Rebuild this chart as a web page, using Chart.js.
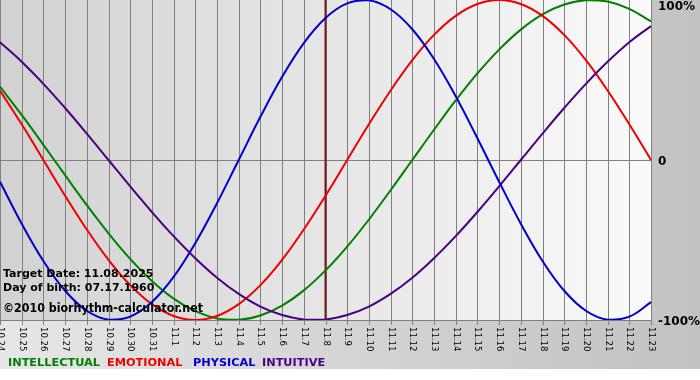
<!DOCTYPE html>
<html>
<head>
<meta charset="utf-8">
<script src="https://cdn.jsdelivr.net/npm/chart.js@4.4.1/dist/chart.umd.min.js"></script>
<style>
  html, body { margin: 0; padding: 0; background: #fff; }
  #wrap { width: 700px; height: 380px; position: relative; }
</style>
</head>
<body>
<div id="wrap"><canvas id="bio" width="700" height="380"></canvas></div>
<script>
// Days shown on the chart
const days = ['10.24', '10.25', '10.26', '10.27', '10.28', '10.29', '10.30', '10.31',
    '11.1', '11.2', '11.3', '11.4', '11.5', '11.6', '11.7', '11.8', '11.9', '11.10',
    '11.11', '11.12', '11.13', '11.14', '11.15', '11.16', '11.17', '11.18', '11.19',
    '11.20', '11.21', '11.22', '11.23'];

// Cycle values per day (-1 .. 1)
const physical = [-0.136, -0.398, -0.631, -0.817, -0.942, -0.998, -0.979, -0.888,
    -0.731, -0.520, -0.270, 0.000, 0.270, 0.520, 0.731, 0.888, 0.979, 0.998,
    0.942, 0.817, 0.631, 0.398, 0.136, -0.136, -0.398, -0.631, -0.817, -0.942,
    -0.998, -0.979, -0.888];
const emotional = [0.434, 0.223, 0.000, -0.223, -0.434, -0.624, -0.782, -0.901,
    -0.975, -1.000, -0.975, -0.901, -0.782, -0.624, -0.434, -0.223, 0.000, 0.223,
    0.434, 0.624, 0.782, 0.901, 0.975, 1.000, 0.975, 0.901, 0.782, 0.624,
    0.434, 0.223, 0.000];
const intellectual = [0.458, 0.282, 0.095, -0.095, -0.282, -0.458, -0.618, -0.756,
    -0.866, -0.945, -0.990, -0.999, -0.972, -0.910, -0.815, -0.690, -0.541, -0.372,
    -0.189, 0.000, 0.189, 0.372, 0.541, 0.690, 0.815, 0.910, 0.972, 0.999,
    0.990, 0.945, 0.866];
const intuitive = [0.736, 0.614, 0.476, 0.325, 0.165, 0.000, -0.165, -0.325,
    -0.476, -0.614, -0.736, -0.837, -0.916, -0.969, -0.997, -0.997, -0.969, -0.916,
    -0.837, -0.736, -0.614, -0.476, -0.325, -0.165, 0.000, 0.165, 0.325, 0.476,
    0.614, 0.736, 0.837];

const targetDay = '11.8';
const yTicks = [1, 0, -1];
const yTickLabels = ['100%', '0', '-100%'];

const legendItems = [
    { text: 'INTELLECTUAL', color: '#008000', x: 8 },
    { text: 'EMOTIONAL', color: '#ee0000', x: 107 },
    { text: 'PHYSICAL', color: '#0000cc', x: 193 },
    { text: 'INTUITIVE', color: '#4b0082', x: 262 }
];

/**
 * Backgrounds, grid and decorations
 */
const bioPlugin = {
    id: 'bioDecor',
    beforeDraw(chart) {
        const ctx = chart.ctx;
        const a = chart.chartArea;
        ctx.save();
        // outer background
        let g = ctx.createLinearGradient(0, 0, chart.width, 0);
        g.addColorStop(0, '#e6e6e6');
        g.addColorStop(1, '#c2c2c2');
        ctx.fillStyle = g;
        ctx.fillRect(0, 0, chart.width, 369);
        ctx.fillStyle = '#ffffff';
        ctx.fillRect(0, 369, chart.width, chart.height - 369);
        // plot background
        g = ctx.createLinearGradient(a.left, 0, a.right, 0);
        g.addColorStop(0, '#d2d2d2');
        g.addColorStop(1, '#fafafa');
        ctx.fillStyle = g;
        ctx.fillRect(a.left, a.top, a.right - a.left, a.bottom - a.top);
        ctx.restore();
    },
    beforeDatasetsDraw(chart) {
        const ctx = chart.ctx;
        const a = chart.chartArea;
        const xs = chart.scales.x;
        const ys = chart.scales.y;
        ctx.save();
        ctx.strokeStyle = '#808080';
        ctx.lineWidth = 1;
        ctx.beginPath();
        days.forEach((d, i) => {
            const x = Math.round(xs.getPixelForValue(i)) + 0.5;
            ctx.moveTo(x, a.top);
            ctx.lineTo(x, a.bottom + 5);
        });
        const y0 = Math.round(ys.getPixelForValue(0)) + 0.5;
        ctx.moveTo(a.left, y0);
        ctx.lineTo(a.right, y0);
        ctx.moveTo(a.left, a.bottom + 0.5);
        ctx.lineTo(a.right, a.bottom + 0.5);
        ctx.stroke();

        // target date marker
        const xt = xs.getPixelForValue(days.indexOf(targetDay));
        ctx.strokeStyle = '#7a1a1a';
        ctx.lineWidth = 2;
        ctx.beginPath();
        ctx.moveTo(xt, a.top);
        ctx.lineTo(xt, a.bottom);
        ctx.stroke();
        ctx.restore();
    },
    afterDraw(chart) {
        const ctx = chart.ctx;
        const a = chart.chartArea;
        const xs = chart.scales.x;
        const ys = chart.scales.y;
        ctx.save();

        // overlay info text
        ctx.fillStyle = '#000000';
        ctx.textAlign = 'left';
        ctx.textBaseline = 'alphabetic';
        ctx.font = "bold 11px 'DejaVu Sans'";
        ctx.fillText('Target Date: 11.08.2025', 3, 277);
        ctx.fillText('Day of birth: 07.17.1960', 3, 291);
        ctx.font = "bold 12.5px 'DejaVu Sans Condensed', 'DejaVu Sans'";
        ctx.fillText('\u00a92010 biorhythm-calculator.net', 3, 312, 200);

        // right axis labels
        ctx.font = "bold 12px 'DejaVu Sans'";
        ctx.textBaseline = 'middle';
        yTicks.forEach((v, i) => {
            let y = ys.getPixelForValue(v);
            if (i === 0) y += 7;
            else y += 2;
            ctx.fillText(yTickLabels[i], a.right + 7, y);
        });

        // rotated day labels
        ctx.font = "9.5px 'DejaVu Sans Condensed', 'DejaVu Sans'";
        ctx.fillStyle = '#000000';
        days.forEach((d, i) => {
            const x = xs.getPixelForValue(i);
            ctx.save();
            ctx.translate(x + 0.5, a.bottom + 7);
            ctx.rotate(Math.PI / 2);
            ctx.textAlign = 'left';
            ctx.textBaseline = 'middle';
            ctx.fillText(d, 0, 0);
            ctx.restore();
        });

        // legend
        ctx.font = "bold 11.3px 'DejaVu Sans'";
        ctx.textBaseline = 'alphabetic';
        legendItems.forEach(item => {
            ctx.fillStyle = item.color;
            ctx.fillText(item.text, item.x, 366);
        });
        ctx.restore();
    }
};

function makeSet(label, data, color) {
    return {
        label: label,
        data: data,
        borderColor: color,
        borderWidth: 2,
        pointRadius: 0,
        tension: 0.4,
        fill: false
    };
}

new Chart(document.getElementById('bio'), {
    type: 'line',
    data: {
        labels: days,
        datasets: [
            makeSet('INTUITIVE', intuitive, '#4b0082'),
            makeSet('PHYSICAL', physical, '#0000cc'),
            makeSet('EMOTIONAL', emotional, '#ee0000'),
            makeSet('INTELLECTUAL', intellectual, '#008000')
        ]
    },
    options: {
        responsive: false,
        animation: false,
        layout: { padding: { left: 0, top: 0, right: 49, bottom: 60 } },
        plugins: {
            legend: { display: false },
            tooltip: { enabled: false }
        },
        scales: {
            x: { display: false, offset: false },
            y: { display: false, min: -1, max: 1 }
        }
    },
    plugins: [bioPlugin]
});
</script>
</body>
</html>
